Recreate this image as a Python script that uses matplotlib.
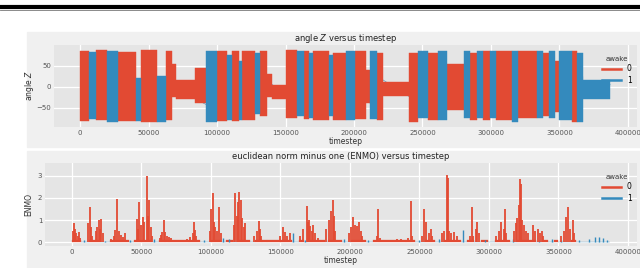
import numpy as np
import matplotlib
matplotlib.use("Agg")
import matplotlib.pyplot as plt
from matplotlib.patches import Rectangle
from matplotlib.lines import Line2D

# ------------------------------
# Data (timestep in thousands)
# ------------------------------
# anglez segments: start, end, awake, low, high
seg_start = [0, 6.5, 12, 20, 27.5, 41, 44.5, 56.5, 62.5, 67, 70, 84, 92, 100, 107, 111,
             116, 118.5, 128, 131.5, 136.5, 140, 150, 158.5, 163.5, 167, 170, 182, 184.5,
             194, 201, 209, 211.5, 216.5, 221, 240, 247, 254, 261, 268, 280, 284.5, 289.5,
             294, 299, 304, 315, 320, 333.5, 338, 342.5, 346.5, 350, 358.8, 362.5, 367]
seg_end = seg_start[1:] + [387]
seg_awake = [0, 1, 0, 1, 0, 1, 0, 1, 0, 0, 0, 0, 1, 0, 1, 0,
             1, 0, 1, 0, 0, 0, 0, 1, 0, 1, 0, 1, 0,
             1, 0, 0, 1, 0, 0, 0, 1, 0, 1, 0, 1, 0, 1,
             0, 1, 0, 1, 0, 1, 0, 1, 0, 1, 0, 1, 1]
seg_lo = [-82, -78, -80, -85, -82, -82, -85, -85, -80, -25, -30, -40, -85, -82, -80, -82,
          -80, -80, -65, -70, -25, -30, -75, -70, -78, -75, -80, -70, -80,
          -80, -78, -40, -78, -80, -22, -85, -75, -80, -80, -55, -75, -80, -75,
          -80, -75, -80, -85, -75, -75, -70, -75, -60, -80, -85, -85, -30]
seg_hi = [85, 82, 86, 85, 83, 20, 88, 25, 85, 55, 15, 45, 85, 85, 75, 85,
          60, 85, 80, 85, 30, 5, 88, 85, 85, 80, 85, 75, 80,
          85, 85, 40, 85, 80, 12, 80, 85, 80, 85, 55, 85, 80, 85,
          85, 85, 85, 85, 85, 85, 80, 85, 60, 85, 85, 80, 15]

# ENMO peaks, awake = 0
enmo0_t = [0.5, 1.2, 2.0, 3, 4, 5, 6, 11.5, 12.9, 13.6, 14.5, 17, 18, 19.2, 20, 21, 22,
           28, 30, 31, 32.6, 33.5, 35, 36.5, 38, 46.8, 47.5, 48.4, 49.5, 50.8, 52, 53.7,
           54.5, 55.6, 56.5, 57.5, 63, 64, 65, 66.2, 67, 68.5, 70, 71.5, 80, 83, 85, 87,
           88, 88.5, 89.5, 99.5, 100.3, 101.2, 102, 103, 104, 106, 107, 116.5, 117.5,
           118.5, 119.5, 120.4, 121.5, 122.5, 123.5, 124.5, 131, 133, 134.3, 135, 136,
           150, 151.5, 153, 155, 157, 164, 166, 168.8, 169.5, 170.5, 171.5, 172.5, 173.5,
           174.5, 177, 183, 185, 186, 187.5, 188.5, 189.5, 199, 200.5, 202.4, 203.5, 205,
           206.5, 208, 209, 219.5, 220.4, 221.5, 225, 230, 234, 237, 242, 243.6, 244.5,
           251.5, 253.5, 255, 256.5, 258, 259, 266, 268, 269.5, 270.3, 271.5, 273, 275,
           277, 286.5, 287.5, 288.5, 290.5, 291.5, 292.5, 305, 307, 309, 310.5, 311.5,
           312.5, 318, 319.5, 320.5, 321.5, 322.3, 323, 324, 325, 326.5, 328, 331.5, 333,
           335, 336.5, 338, 339, 352, 354, 355.5, 357, 358, 360.5, 361.5]
enmo0_v = [0.5, 0.85, 0.6, 0.4, 0.3, 0.45, 0.2, 0.85, 1.6, 0.7, 0.3, 0.5, 0.7, 1.0, 0.6, 1.05, 0.4,
           0.15, 0.3, 0.55, 1.97, 0.5, 0.35, 0.25, 0.4, 1.05, 0.6, 1.8, 0.8, 1.15, 0.9, 3.0,
           1.2, 1.9, 0.7, 0.3, 0.2, 0.35, 0.45, 1.0, 0.45, 0.3, 0.25, 0.2, 0.1, 0.15, 0.25, 0.4,
           0.9, 0.55, 0.3, 0.5, 1.5, 2.2, 0.9, 0.7, 0.5, 1.6, 0.4, 0.8, 2.2,
           1.2, 1.8, 2.25, 1.9, 1.1, 0.7, 0.85, 0.3, 0.5, 0.97, 0.6, 0.3,
           0.3, 0.7, 0.45, 0.3, 0.4, 0.3, 0.6, 1.64, 0.9, 1.0, 0.75, 0.5, 0.8,
           0.4, 0.2, 0.6, 1.0, 1.4, 1.9, 1.2, 0.5, 0.4, 0.7, 1.15, 0.8, 0.75,
           0.9, 0.5, 0.3, 0.3, 1.5, 0.2, 0.1, 0.1, 0.15, 0.15, 0.2, 1.87, 0.3,
           0.3, 1.5, 0.9, 0.4, 0.6, 0.3, 0.4, 0.5, 3.05, 2.9, 0.5, 0.4, 0.45,
           0.3, 0.3, 1.6, 0.3, 0.6, 0.93, 0.4, 0.3, 0.5, 0.93, 0.6, 1.5,
           0.4, 0.5, 0.85, 1.1, 1.7, 2.87, 2.64, 1.0, 0.8, 0.5, 0.4, 0.78, 0.5,
           0.6, 0.4, 0.5, 0.3, 0.3, 0.5, 1.15, 1.6, 0.6, 1.0, 0.4]

# ENMO bumps, awake = 1
enmo1_t = [9, 24, 42, 59, 95, 109, 113, 159.2, 168, 196, 213, 250, 264, 281, 297, 317,
           336, 345, 352, 365, 372, 376, 379, 382, 385]
enmo1_v = [0.1, 0.08, 0.12, 0.15, 0.12, 0.2, 0.15, 0.4, 0.1, 0.15, 0.12, 0.1, 0.15, 0.55,
           0.12, 0.15, 0.1, 0.15, 0.12, 0.12, 0.15, 0.22, 0.25, 0.2, 0.1]

xticks = [0, 50000, 100000, 150000, 200000, 250000, 300000, 350000, 400000]

colors = {0: "#E24A33", 1: "#348ABD"}

# ------------------------------
# Figure
# ------------------------------
W, H = 640, 268
fig = plt.figure(figsize=(6.4, 2.68), dpi=100)
fig.patch.set_facecolor("white")

# page rule at the top
fig.add_artist(Line2D([0, 1], [1 - 7 / H] * 2, lw=3, color="black"))
fig.add_artist(Line2D([0, 1], [1 - 10 / H] * 2, lw=0.6, color="#777777"))

# panel backgrounds
fig.patches.append(Rectangle((27 / W, 1 - 147 / H), 1 - 27 / W, 115 / H,
                             transform=fig.transFigure, color="#f0f0f0", zorder=-5))
fig.patches.append(Rectangle((27 / W, 0), 1 - 27 / W, 1 - 151 / H,
                             transform=fig.transFigure, color="#f0f0f0", zorder=-5))

ax1 = fig.add_axes([54 / W, 1 - 127 / H, 583 / W, 82 / H])
ax2 = fig.add_axes([45 / W, 1 - 246 / H, 592 / W, 83 / H])


def style(ax):
    ax.set_facecolor("#e5e5e5")
    for s in ax.spines.values():
        s.set_visible(False)
    ax.grid(True, color="white", lw=0.9)
    ax.set_axisbelow(True)
    ax.tick_params(length=0, labelsize=5, labelcolor="#555555", pad=2)
    ax.set_xticks(xticks)
    ax.set_xticklabels([str(t) for t in xticks])


# ------------------------------
# angle Z panel
# ------------------------------
style(ax1)
s0 = np.array(seg_start) * 1000
s1 = np.array(seg_end) * 1000
lo = np.array(seg_lo)
hi = np.array(seg_hi)
aw = np.array(seg_awake)

# thin connector lines between awake segments (drawn under the blocks)
m = aw == 1
ax1.plot(np.column_stack([s0[m], s1[m]]).ravel(),
         np.column_stack([lo[m] * 0.5, hi[m] * 0.3]).ravel(),
         color=colors[1], lw=0.5, alpha=0.8, zorder=1.5)

for state in [0, 1]:
    m = aw == state
    ax1.bar(s0[m], hi[m] - lo[m], width=s1[m] - s0[m], bottom=lo[m], align="edge",
            color=colors[state], edgecolor=colors[state], linewidth=0.3, zorder=2)

ax1.set_xlim(-19000, 406600)
ax1.set_ylim(-96, 99)
ax1.set_yticks([-50, 0, 50])
ax1.set_title("angle $Z$ versus timestep", fontsize=6, pad=3, color="#222222")
ax1.set_xlabel("timestep", fontsize=5.5, labelpad=1, color="#333333")
ax1.set_ylabel("angle $Z$", fontsize=5.5, labelpad=0, color="#333333")

# ------------------------------
# ENMO panel
# ------------------------------
style(ax2)
for state, base in [(0, 0.09), (1, 0.03)]:
    m = aw == state
    ax2.bar(s0[m], base, width=s1[m] - s0[m], align="edge", color=colors[state],
            edgecolor=colors[state], linewidth=0.2, zorder=2)
ax2.vlines(np.array(enmo1_t) * 1000, 0, enmo1_v, color=colors[1], lw=1.0, zorder=2)
ax2.vlines(np.array(enmo0_t) * 1000, 0, enmo0_v, color=colors[0], lw=1.3, zorder=3)

ax2.set_xlim(-19400, 406500)
ax2.set_ylim(-0.167, 3.57)
ax2.set_yticks([0, 1, 2, 3])
ax2.set_title("euclidean norm minus one (ENMO) versus timestep", fontsize=6, pad=3,
              color="#222222")
ax2.set_xlabel("timestep", fontsize=5.5, labelpad=1, color="#333333")
ax2.set_ylabel("ENMO", fontsize=5.5, labelpad=3, color="#333333")

# ------------------------------
# Legends
# ------------------------------
handles = [Line2D([], [], color=colors[0], lw=1.8), Line2D([], [], color=colors[1], lw=1.8)]
for ax in [ax1, ax2]:
    leg = ax.legend(handles, ["0", "1"], title="awake", loc="upper right",
                    bbox_to_anchor=(1.0, 0.93), frameon=False, fontsize=5.5,
                    title_fontsize=5, handlelength=2.4, labelspacing=0.3,
                    borderaxespad=0.3)
    leg.get_title().set_color("#333333")

fig.savefig("out.png", dpi=100, facecolor=fig.get_facecolor())
